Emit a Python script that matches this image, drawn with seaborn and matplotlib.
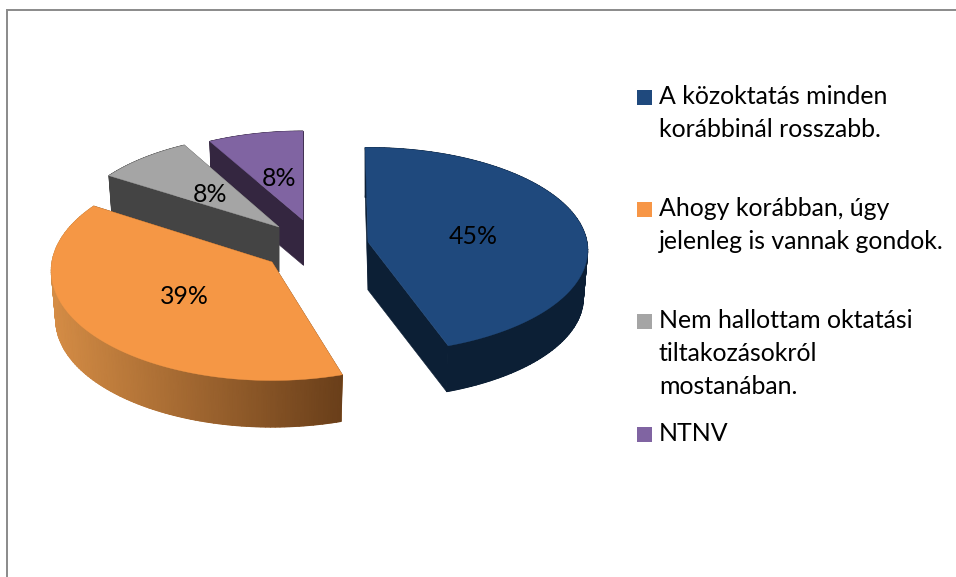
import numpy as np
import seaborn as sns
import matplotlib.pyplot as plt
from matplotlib.patches import Rectangle

# chart values
categories = [
    'A közoktatás minden\nkorábbinál rosszabb.',
    'Ahogy korábban, úgy\njelenleg is vannak gondok.',
    'Nem hallottam oktatási\ntiltakozásokról\nmostanában.',
    'NTNV',
]
shares = [45, 39, 8, 8]

# look of the exploded 3d pie, in picture pixels
top_colors = ['#1F497D', '#F59745', '#A5A5A5', '#8064A2']
legend_colors = ['#1F497D', '#F79646', '#A5A5A5', '#8064A2']
rim_light = ['#0C1F35', '#D48C45', '#444444', '#342640']
rim_dark = ['#0C1F35', '#6A3F1A', '#444444', '#342640']
cut_colors = ['#0C1F35', '#6A3F1A', '#444444', '#342640']
centres = [(368, 242), (272, 262), (279, 227), (303, 220)]
radii = [(219, 102), (220, 109), (210, 100), (207, 96)]
depths = [48, 49, 45, 45]
start_tilt = [-0.8, 0.8, 0, 0]
end_tilt = [-1.8, 0, 0, 0]
label_pos = [(473, 237), (184, 297), (210, 194), (279, 178)]
draw_order = [3, 2, 0, 1]

PERSPECTIVE = 0.08
BOTTOM_SCALE = 0.98
FONT_SIZE = 17.9

legend_y = [97, 209, 321, 434]
LINE_PITCH = 33


def rim_points(idx, theta, lowered=False):
    """Pie angle (deg, clockwise from the top) to a pixel position on the slice rim."""
    cx, cy = centres[idx]
    rx, ry = radii[idx]
    rad = np.radians(theta)
    s = 1 / (1 + PERSPECTIVE * np.cos(rad))
    k = BOTTOM_SCALE if lowered else 1
    x = cx + k * rx * np.sin(rad) * s
    y = cy - k * ry * np.cos(rad) * s
    if lowered:
        y = y + depths[idx]
    return x, y


def draw_cut(ax, idx, theta):
    cx, cy = centres[idx]
    x0, y0 = rim_points(idx, theta)
    x1, y1 = rim_points(idx, theta, lowered=True)
    ax.fill([cx, x0, x1, cx], [cy, y0, y1, cy + depths[idx]],
            color=cut_colors[idx], lw=0.4)


def draw_slice(ax, idx, start, end):
    start = start + start_tilt[idx]
    end = end + end_tilt[idx]
    draw_cut(ax, idx, start)
    draw_cut(ax, idx, end)

    steps = np.linspace(start, end, 120)
    xs_top, ys_top = rim_points(idx, steps)
    xs_low, ys_low = rim_points(idx, steps, lowered=True)

    # flat wall underneath keeps the lower edge smooth
    ax.fill(np.r_[xs_top, xs_low[::-1]], np.r_[ys_top, ys_low[::-1]],
            color=rim_light[idx], lw=0.3)

    # shading runs from the far left to the right end of the wall
    rx = radii[idx][0]
    cx = centres[idx][0]
    pos = np.clip((xs_top - (cx - rx)) / (rx * 1.32), 0, 1)
    cmap = sns.blend_palette([rim_light[idx], rim_dark[idx]], as_cmap=True)
    ax.pcolormesh(np.vstack([xs_top, xs_low]), np.vstack([ys_top, ys_low]),
                  np.vstack([pos, pos]), shading='gouraud', cmap=cmap,
                  vmin=0, vmax=1)

    # top face
    ax.fill(np.r_[cx, xs_top], np.r_[centres[idx][1], ys_top],
            color=top_colors[idx], lw=0.3)


def main():
    sns.set_theme(style='white')
    plt.rcParams['font.family'] = ['Lato', 'DejaVu Sans']

    fig = plt.figure(figsize=(9.56, 5.77), dpi=100)
    ax = fig.add_axes([0, 0, 1, 1])
    ax.set_xlim(0, 956)
    ax.set_ylim(577, 0)
    ax.axis('off')

    # outer chart frame, only left and top show in the crop
    ax.plot([7.5, 7.5, 956], [577, 9.5, 9.5], color='#8A8A8A', lw=1.4,
            solid_joinstyle='miter')

    bounds = np.r_[0, np.cumsum(shares)] / np.sum(shares) * 360
    for idx in draw_order:
        draw_slice(ax, idx, bounds[idx], bounds[idx + 1])

    for idx, val in enumerate(shares):
        ax.text(label_pos[idx][0], label_pos[idx][1], '{}%'.format(val),
                ha='center', va='center', fontsize=FONT_SIZE, color='black')

    # legend keys and wrapped labels
    for label, col, y in zip(categories, legend_colors, legend_y):
        ax.add_patch(Rectangle((637, y - 7.5), 15, 15, color=col, lw=0))
        for n, line in enumerate(label.split('\n')):
            ax.text(659, y + 7 + n * LINE_PITCH, line, ha='left', va='baseline',
                    fontsize=FONT_SIZE, color='black')

    fig.savefig('out.png', dpi=100)


if __name__ == '__main__':
    main()
